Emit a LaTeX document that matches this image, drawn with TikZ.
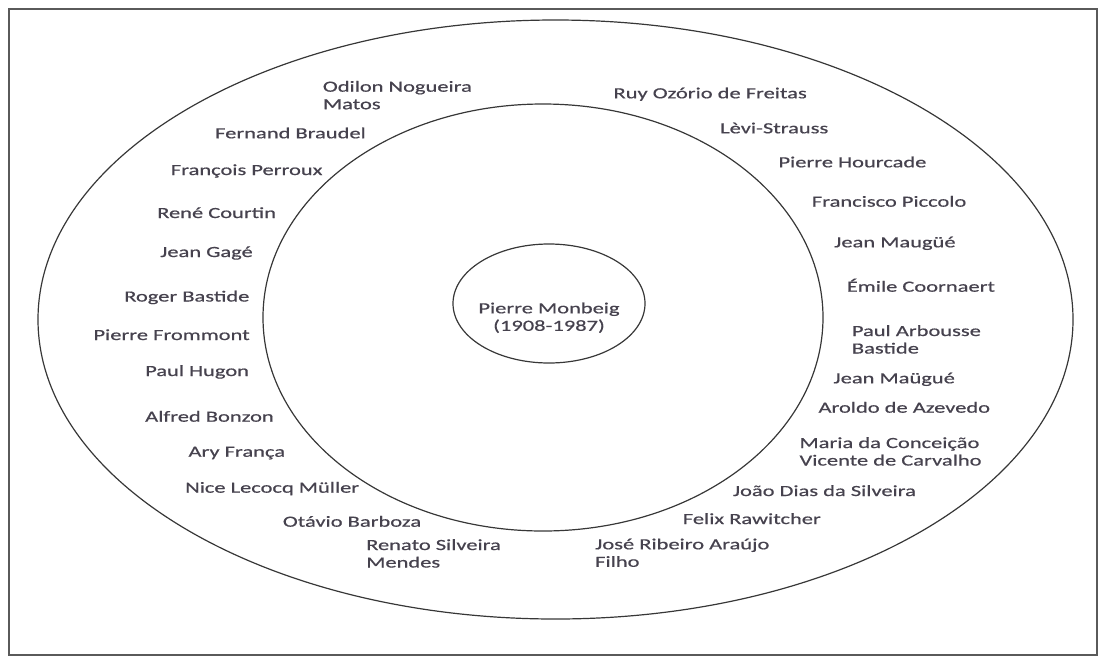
\documentclass[tikz,border=0pt]{standalone}
\usepackage{fontspec}
\setmainfont{Carlito}[FakeStretch=1.45,FakeBold=0.6]
\definecolor{txt}{RGB}{70,66,78}
\definecolor{ink}{RGB}{55,55,55}
\definecolor{frame}{RGB}{90,90,90}
\begin{document}
\begin{tikzpicture}[x=1pt,y=-1pt,
  lbl/.style={anchor=base west,inner sep=0pt,text=txt,align=left,
    font=\fontsize{15.5}{17.5}\selectfont},
  ring/.style={draw=ink,line width=1.2pt}]
\useasboundingbox (0,0) rectangle (1100,657);
\draw[frame,line width=1.4pt] (9,9) rectangle (1097,655);
\draw[ring] (555.5,319.5) ellipse [x radius=517.5pt, y radius=299.5pt];
\draw[ring] (543,317.5) ellipse [x radius=280pt, y radius=213.5pt];
\draw[ring] (549,303.5) ellipse [x radius=96pt, y radius=59.5pt];
\node[inner sep=0pt,text=txt,align=center,font=\fontsize{15.5}{17.5}\selectfont,anchor=base] (pm) at (549,330.8) {Pierre Monbeig\\(1908-1987)};
% left side
\node[lbl] (odilon) at (322.7,109.2) {Odilon Nogueira\\Matos};
\node[lbl] (braudel) at (215,138.3) {Fernand Braudel};
\node[lbl] (perroux) at (170.7,175) {François Perroux};
\node[lbl] (courtin) at (157,218) {René Courtin};
\node[lbl] (gage) at (160,257) {Jean Gagé};
\node[lbl] (bastide) at (124,301.5) {Roger Bastide};
\node[lbl] (frommont) at (93.3,340) {Pierre Frommont};
\node[lbl] (hugon) at (145,376) {Paul Hugon};
\node[lbl] (bonzon) at (145,421.7) {Alfred Bonzon};
\node[lbl] (franca) at (188.3,456.7) {Ary França};
\node[lbl] (muller) at (185,492.7) {Nice Lecocq Müller};
\node[lbl] (barboza) at (282.7,526.7) {Otávio Barboza};
\node[lbl] (mendes) at (366,567.5) {Renato Silveira\\Mendes};
% right side
\node[lbl] (freitas) at (613.3,98.3) {Ruy Ozório de Freitas};
\node[lbl] (levi) at (720,133.3) {Lèvi-Strauss};
\node[lbl] (hourcade) at (778.3,167.3) {Pierre Hourcade};
\node[lbl] (piccolo) at (811.7,206.7) {Francisco Piccolo};
\node[lbl] (maugue1) at (834,247.3) {Jean Maugüé};
\node[lbl] (coornaert) at (846.7,291.7) {Émile Coornaert};
\node[lbl] (arbousse) at (851.7,353.5) {Paul Arbousse\\Bastide};
\node[lbl] (maugue2) at (833.3,383.3) {Jean Maügué};
\node[lbl] (azevedo) at (818.3,412.7) {Aroldo de Azevedo};
\node[lbl] (carvalho) at (799.3,465.5) {Maria da Conceição\\Vicente de Carvalho};
\node[lbl] (silveira) at (732.7,496) {João Dias da Silveira};
\node[lbl] (rawitcher) at (682.7,524) {Felix Rawitcher};
\node[lbl] (araujo) at (595,566.8) {José Ribeiro Araújo\\Filho};
\end{tikzpicture}
\end{document}
